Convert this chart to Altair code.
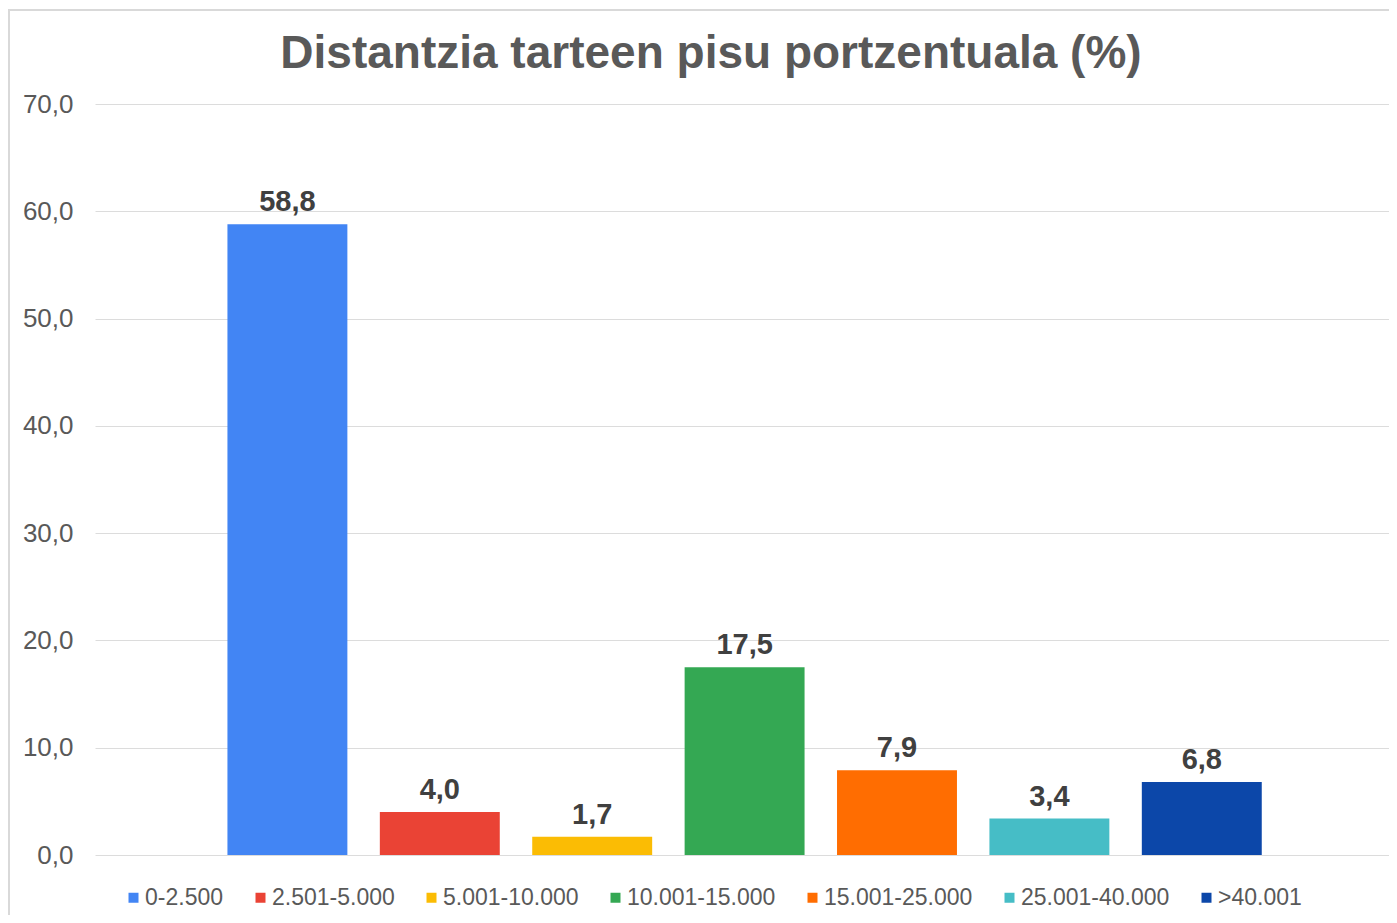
import altair as alt
import pandas as pd

categories = ["0-2.500", "2.501-5.000", "5.001-10.000", "10.001-15.000",
              "15.001-25.000", "25.001-40.000", ">40.001"]
values = [58.8, 4.0, 1.7, 17.5, 7.9, 3.4, 6.8]
colors = ["#4285F4", "#EA4335", "#FBBC04", "#34A853", "#FF6D01", "#46BDC6", "#0C47A9"]

df = pd.DataFrame({"tartea": categories, "balioa": values})

FONT = "Liberation Sans"

x_enc = alt.X("tartea:N", sort=categories, axis=None,
              scale=alt.Scale(paddingInner=0.213, paddingOuter=0.852, align=0.51))
y_enc = alt.Y("balioa:Q", title=None,
              scale=alt.Scale(domain=[0, 70], nice=False),
              axis=alt.Axis(values=[0, 10, 20, 30, 40, 50, 60, 70],
                            labelExpr="replace(format(datum.value, '.1f'), '.', ',')",
                            labelFontSize=26, labelColor="#595959", labelFont=FONT,
                            labelPadding=22, domain=False, ticks=False,
                            grid=True, gridColor="#dcdcdc", gridWidth=1))

bars = alt.Chart(df).mark_bar().encode(
    x=x_enc,
    y=y_enc,
    color=alt.Color("tartea:N", sort=categories,
                    scale=alt.Scale(domain=categories, range=colors),
                    legend=alt.Legend(title=None, orient="none", direction="horizontal",
                                      legendX=27, legendY=782,
                                      symbolType="square", symbolSize=100,
                                      symbolStrokeWidth=0,
                                      labelFontSize=23, labelColor="#595959",
                                      labelFont=FONT, labelOffset=0,
                                      columnPadding=25, padding=0)),
)

labels = alt.Chart(df).transform_calculate(
    lab="replace(format(datum.balioa, '.1f'), '.', ',')"
).mark_text(font=FONT, fontSize=29, fontWeight="bold", color="#404040",
            baseline="alphabetic", dy=-13).encode(
    x=alt.X("tartea:N", sort=categories, axis=None),
    y=alt.Y("balioa:Q"),
    text="lab:N",
)

frame = alt.Chart(df).mark_rect(fill=None, stroke="#d9d9d9", strokeWidth=1.5).encode(
    x=alt.value(-86), x2=alt.value(1400),
    y=alt.value(-94), y2=alt.value(900),
)

chart = alt.layer(frame, bars, labels).properties(
    width=1294, height=751,
    title=alt.Title("Distantzia tarteen pisu portzentuala (%)",
                    font=FONT, fontSize=46, fontWeight="bold", color="#595959",
                    anchor="middle", dx=-31, dy=97, offset=28),
    autosize=alt.AutoSizeParams(type="none"),
    padding={"left": 87, "top": 96, "right": 0, "bottom": 60},
).configure_view(stroke=None)

chart.save("out.html", embed_options={"renderer": "svg", "actions": False})
